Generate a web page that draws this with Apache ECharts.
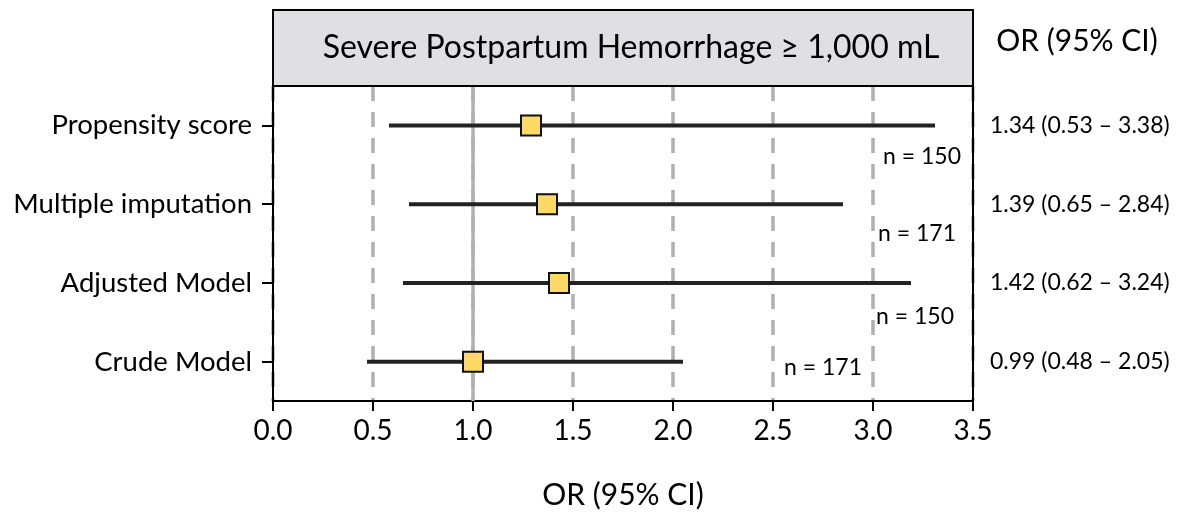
<!DOCTYPE html>
<html>
<head>
<meta charset="utf-8">
<script src="https://cdn.jsdelivr.net/npm/echarts@6/dist/echarts.min.js"></script>
<style>
html,body{margin:0;padding:0;background:#fff;}
#c{width:1185px;height:515px;}
</style>
</head>
<body>
<div id="c"></div>
<script>
// ---- data ----
const categories = ['Propensity score', 'Multiple imputation', 'Adjusted Model', 'Crude Model'];
const orValue = [1.29, 1.37, 1.43, 1.0];
const ciLow = [0.58, 0.68, 0.65, 0.47];
const ciHigh = [3.31, 2.85, 3.19, 2.05];
const orText = ['1.34 (0.53 \u2013 3.38)', '1.39 (0.65 \u2013 2.84)', '1.42 (0.62 \u2013 3.24)', '0.99 (0.48 \u2013 2.05)'];
const nText = ['n = 150', 'n = 171', 'n = 150', 'n = 171'];
const xTicks = [0, 0.5, 1, 1.5, 2, 2.5, 3, 3.5];
const title = 'Severe Postpartum Hemorrhage \u2265 1,000 mL';
const axisTitle = 'OR (95% CI)';
const colTitle = 'OR (95% CI)';

const FONT = 'Lato';
const chart = echarts.init(document.getElementById('c'));

const gridL = 273, gridR = 212, gridT = 86, gridB = 114;

// annotation layout (pixel positions for the n labels)
const nPos = [[883, 157], [878, 234], [876, 317], [784, 368]];

const option = {
  animation: false,
  backgroundColor: '#fff',
  grid: { left: gridL, right: gridR, top: gridT, bottom: gridB },
  xAxis: {
    type: 'value', min: xTicks[0], max: xTicks[xTicks.length - 1], interval: 0.5,
    axisLine: { show: true, lineStyle: { color: '#000', width: 2 } },
    axisTick: { show: true, length: 10, lineStyle: { color: '#000', width: 2 } },
    axisLabel: { color: '#000', fontSize: 28, fontFamily: FONT, margin: 16,
      formatter: v => v.toFixed(1) },
    splitLine: { show: true, lineStyle: { color: '#b0b0b0', width: 3.5, type: [15, 11] } },
    name: axisTitle, nameLocation: 'middle', nameGap: 79,
    nameTextStyle: { color: '#000', fontSize: 30, fontFamily: FONT }
  },
  yAxis: [{
    type: 'category', data: categories, inverse: true,
    axisLine: { show: true, lineStyle: { color: '#000', width: 2 } },
    axisTick: { show: true, alignWithLabel: true, length: 11, lineStyle: { color: '#000', width: 2 } },
    axisLabel: { color: '#000', fontSize: 27.5, fontFamily: FONT, margin: 21 },
    splitLine: { show: false }
  }, {
    type: 'category', data: categories, inverse: true, position: 'right',
    axisLine: { show: true, onZero: false, lineStyle: { color: '#000', width: 2 } },
    axisTick: { show: false },
    axisLabel: { color: '#000', fontSize: 23, fontFamily: FONT, margin: 17,
      formatter: (v, i) => orText[i] },
    splitLine: { show: false }
  }],
  series: [{
    type: 'custom',
    yAxisIndex: 0,
    data: categories.map((c, i) => [ciLow[i], ciHigh[i], i]),
    renderItem: function (params, api) {
      const p1 = api.coord([api.value(0), api.value(2)]);
      const p2 = api.coord([api.value(1), api.value(2)]);
      return { type: 'line', shape: { x1: p1[0], y1: p1[1], x2: p2[0], y2: p2[1] },
        style: { stroke: '#222', lineWidth: 4 } };
    },
    z: 3
  }, {
    type: 'scatter',
    yAxisIndex: 0,
    symbol: 'rect', symbolSize: 20,
    itemStyle: { color: '#FFD966', borderColor: '#111', borderWidth: 2, opacity: 1 },
    data: categories.map((c, i) => [orValue[i], i]),
    markLine: {
      silent: true, symbol: 'none', label: { show: false },
      lineStyle: { color: '#b0b0b0', width: 3.5, type: 'solid' },
      data: [{ xAxis: 1 }],
      z: 1
    },
    z: 5
  }],
  graphic: [
    { type: 'rect', shape: { x: gridL, y: 10, width: 1185 - gridL - gridR, height: gridT - 10 },
      style: { fill: '#e0e0e2', stroke: '#000', lineWidth: 2 }, z: 10 },
    { type: 'text', x: 631, y: 48, z: 11,
      style: { text: title, fill: '#000', font: '32px ' + FONT, textAlign: 'center', textVerticalAlign: 'middle' } },
    { type: 'text', x: 1077, y: 41, z: 11,
      style: { text: colTitle, fill: '#000', font: '30px ' + FONT, textAlign: 'center', textVerticalAlign: 'middle' } }
  ].concat(nText.map((t, i) => ({
    type: 'text', x: nPos[i][0], y: nPos[i][1], z: 11,
    style: { text: t, fill: '#000', font: '23px ' + FONT, textAlign: 'left', textVerticalAlign: 'middle' }
  })))
};
chart.setOption(option);
</script>
</body>
</html>
